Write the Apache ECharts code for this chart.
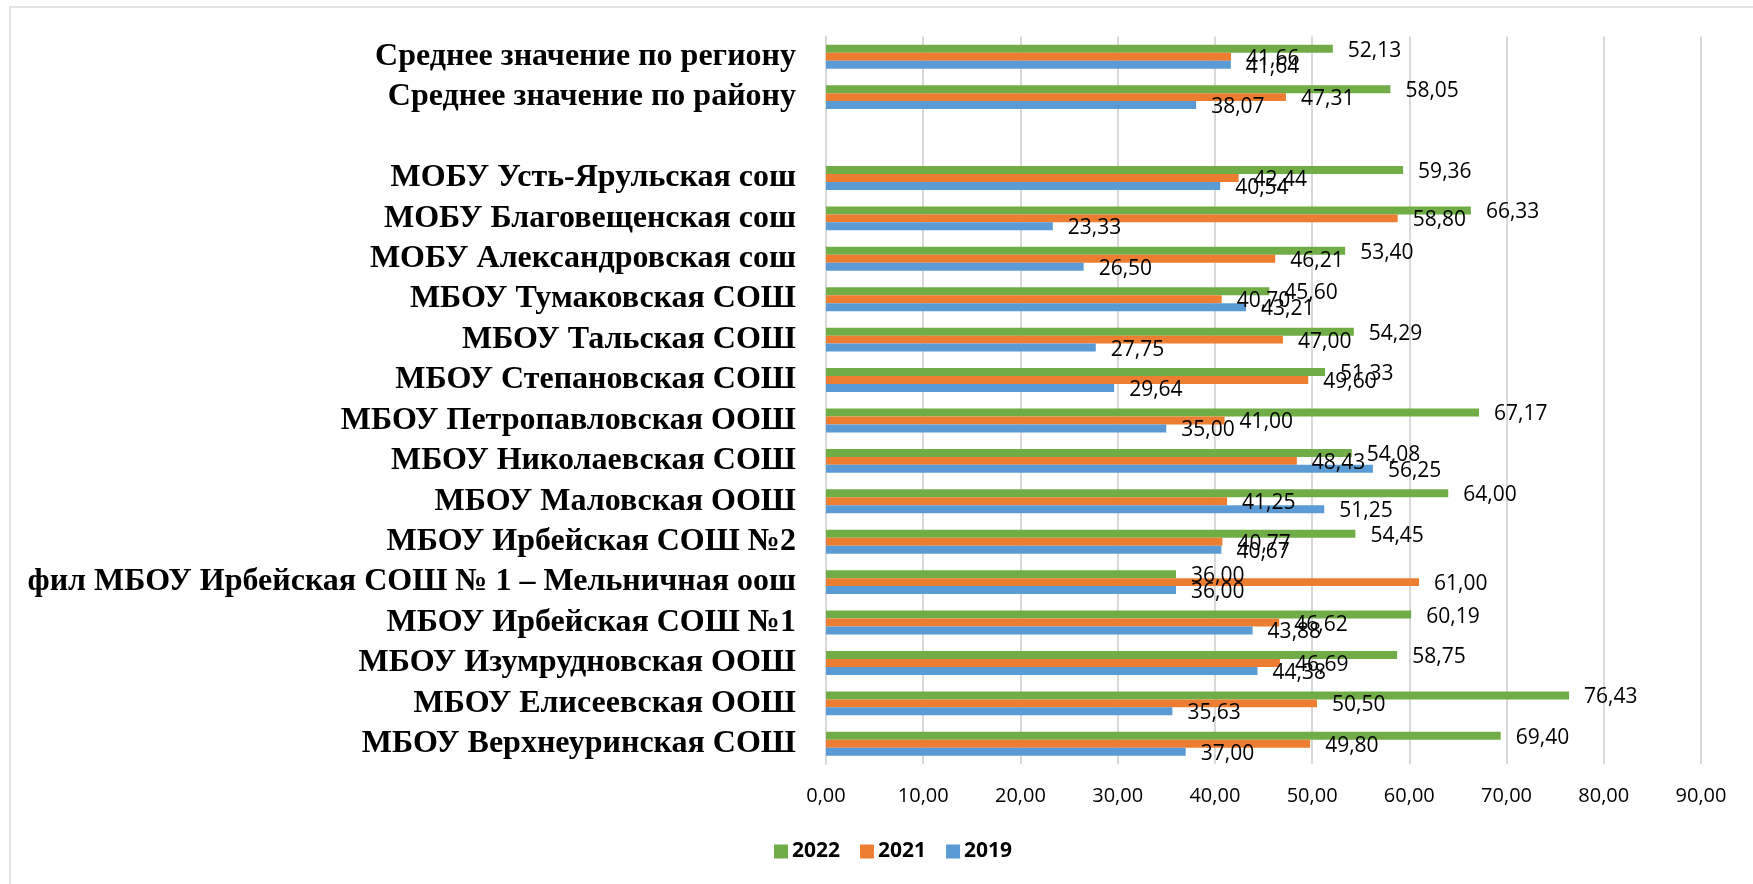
<!DOCTYPE html>
<html>
<head>
<meta charset="utf-8">
<script src="https://cdn.jsdelivr.net/npm/echarts@6/dist/echarts.min.js"></script>
<style>
  html, body { margin: 0; padding: 0; background: #fff; }
  #chart { width: 1753px; height: 884px; }
</style>
</head>
<body>
<div id="chart"></div>
<script>
// categories bottom -> top (as on the y axis)
const schools = [
  'МБОУ Верхнеуринская СОШ',
  'МБОУ Елисеевская ООШ',
  'МБОУ Изумрудновская ООШ',
  'МБОУ Ирбейская СОШ №1',
  'фил МБОУ Ирбейская СОШ № 1 – Мельничная оош',
  'МБОУ Ирбейская СОШ №2',
  'МБОУ Маловская ООШ',
  'МБОУ Николаевская СОШ',
  'МБОУ Петропавловская ООШ',
  'МБОУ Степановская СОШ',
  'МБОУ Тальская СОШ',
  'МБОУ Тумаковская СОШ',
  'МОБУ Александровская сош',
  'МОБУ Благовещенская сош',
  'МОБУ Усть-Ярульская сош',
  '',
  'Среднее значение по району',
  'Среднее значение по региону'
];
const years = ['2022', '2021', '2019'];
const values2022 = [69.40, 76.43, 58.75, 60.19, 36.00, 54.45, 64.00, 54.08, 67.17, 51.33, 54.29, 45.60, 53.40, 66.33, 59.36, null, 58.05, 52.13];
const values2021 = [49.80, 50.50, 46.69, 46.62, 61.00, 40.77, 41.25, 48.43, 41.00, 49.60, 47.00, 40.70, 46.21, 58.80, 42.44, null, 47.31, 41.66];
const values2019 = [37.00, 35.63, 44.38, 43.88, 36.00, 40.67, 51.25, 56.25, 35.00, 29.64, 27.75, 43.21, 26.50, 23.33, 40.54, null, 38.07, 41.64];
const axisTicks = [0, 10, 20, 30, 40, 50, 60, 70, 80, 90];

const colors = ['#70ad47', '#ed7d31', '#5b9bd5'];
const fmt = v => Number(v).toFixed(2).replace('.', ',');

const myChart = echarts.init(document.getElementById('chart'));

const mkSeries = (name, data, color) => ({
  name: name,
  type: 'bar',
  data: data,
  barGap: 0,
  barCategoryGap: '41%',
  itemStyle: { color: color },
  label: {
    show: true,
    position: 'right',
    distance: 15,
    offset: [0, 2],
    color: '#000',
    fontFamily: 'Open Sans',
    fontSize: 21,
    formatter: p => fmt(p.value)
  }
});

const option = {
  backgroundColor: '#fff',
  animation: false,
  graphic: [{
    type: 'rect',
    shape: { x: 10, y: 7, width: 1800, height: 1000 },
    style: { fill: 'none', stroke: '#d9d9d9', lineWidth: 1.5 },
    silent: true
  }],
  grid: {
    left: 826,
    right: 52,
    top: 36.5,
    bottom: 120
  },
  legend: {
    data: years,
    left: 769,
    top: 836,
    icon: 'rect',
    itemWidth: 14,
    itemHeight: 14,
    itemGap: 20,
    textStyle: {
      fontFamily: 'Open Sans',
      fontWeight: 'bold',
      fontSize: 21,
      color: '#000',
      padding: [0, 0, 0, -1]
    }
  },
  xAxis: {
    type: 'value',
    min: axisTicks[0],
    max: axisTicks[axisTicks.length - 1],
    interval: 10,
    axisLine: { show: false },
    axisTick: { show: false },
    splitLine: { lineStyle: { color: '#d9d9d9', width: 2 } },
    axisLabel: {
      margin: 22,
      color: '#000',
      fontFamily: 'Open Sans',
      fontSize: 20,
      formatter: v => fmt(v)
    }
  },
  yAxis: {
    type: 'category',
    data: schools,
    axisLine: { show: true, lineStyle: { color: '#d9d9d9', width: 2 } },
    axisTick: { show: false },
    axisLabel: {
      interval: 0,
      margin: 30,
      color: '#000',
      fontFamily: 'Liberation Serif',
      fontWeight: 'bold',
      fontSize: 32
    }
  },
  series: [
    mkSeries('2022', values2022, colors[0]),
    mkSeries('2021', values2021, colors[1]),
    mkSeries('2019', values2019, colors[2])
  ]
};
myChart.setOption(option);
</script>
</body>
</html>
